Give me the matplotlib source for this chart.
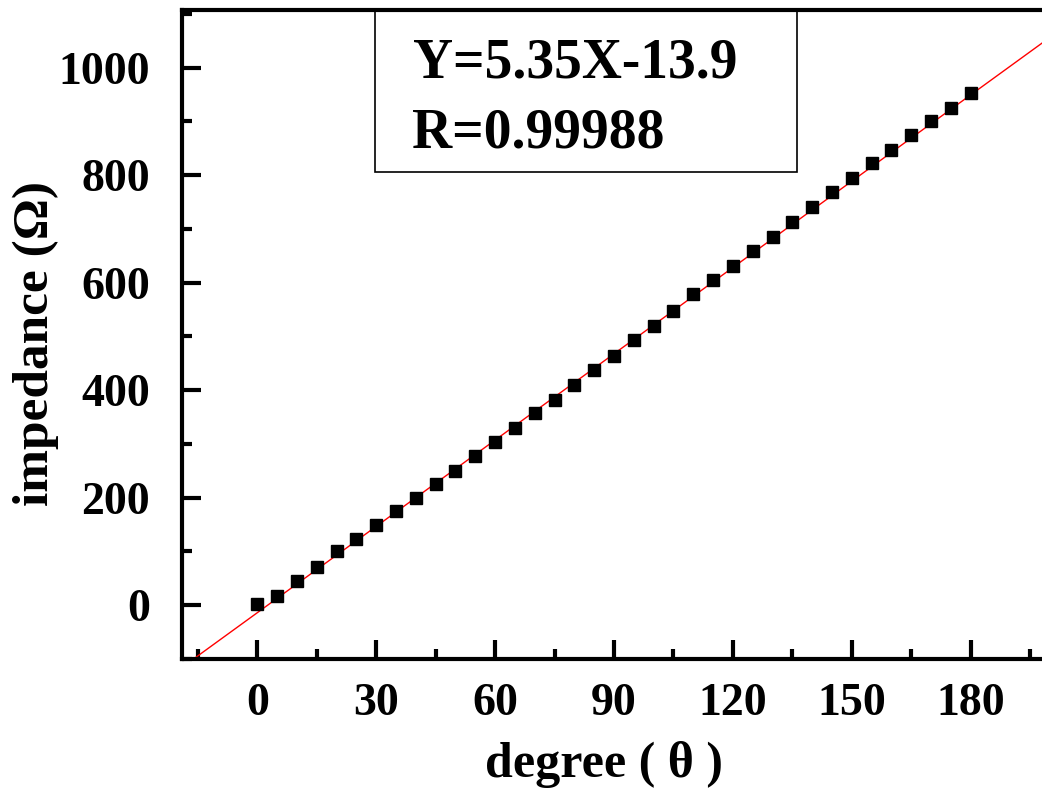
import numpy as np
import matplotlib
matplotlib.use("Agg")
import matplotlib.pyplot as plt
from matplotlib import patches

plt.rcParams['font.family'] = ['Liberation Serif', 'DejaVu Serif']
plt.rcParams['font.weight'] = 'bold'

# measured data
degree = [0, 5, 10, 15, 20, 25, 30, 35, 40, 45, 50, 55, 60, 65, 70, 75, 80, 85,
          90, 95, 100, 105, 110, 115, 120, 125, 130, 135, 140, 145, 150, 155,
          160, 165, 170, 175, 180]
impedance = [2, 17, 45, 72, 100, 123, 150, 175, 200, 225, 250, 278, 303, 330,
             357, 382, 410, 437, 463, 493, 520, 548, 578, 604, 630, 658, 685,
             712, 740, 768, 795, 822, 846, 875, 900, 925, 952]

# linear fit shown on the chart
slope = 5.35
intercept = -13.9
fit_text = ['Y=5.35X-13.9', 'R=0.99988']

W, H = 1042, 790
fig = plt.figure(figsize=(W / 100, H / 100), dpi=100)
ax = fig.add_axes([182 / W, (H - 659) / H, 1 - 182 / W, (659 - 10) / H])

xmin, xmax = -19, 198
xf = np.array([xmin - 5, xmax + 5])
ax.plot(xf, slope * xf + intercept, color='red', lw=1.0, zorder=2)
ax.plot(degree, impedance, 's', color='black', ms=9, zorder=3)

ax.set_xlim(xmin, xmax)
ax.set_ylim(-100, 1107)

ax.set_xticks(np.arange(0, 181, 30))
ax.set_xticks(np.arange(-15, 200, 15), minor=True)
ax.set_yticks(np.arange(0, 1001, 200))
ax.set_yticks(np.arange(-100, 1101, 100), minor=True)

ax.spines['right'].set_visible(False)
for s in ['left', 'bottom', 'top']:
    ax.spines[s].set_linewidth(3)

ax.tick_params(which='major', direction='in', length=14, width=3,
               labelsize=33)
ax.tick_params(axis='y', pad=23)
ax.tick_params(axis='x', pad=17)
ax.tick_params(which='minor', direction='in', length=7, width=3)
ax.tick_params(top=False, right=False, which='both')

ax.set_xlabel('degree ( θ )', fontsize=36, fontweight='bold')
ax.set_ylabel('impedance (Ω)', fontsize=37, fontweight='bold')
ax.xaxis.set_label_coords(604 / W, (H - 765) / H, transform=fig.transFigure)
ax.yaxis.set_label_coords(36 / W, (H - 343) / H, transform=fig.transFigure)
ax.xaxis.label.set_va('center')
ax.yaxis.label.set_va('center')

# annotation box
box = patches.Rectangle((375 / W, (H - 172) / H), (797 - 375) / W, (172 - 10) / H,
                        transform=fig.transFigure, fill=False, lw=1.2,
                        edgecolor='black')
fig.patches.append(box)
fig.text(413 / W, (H - 78) / H, fit_text[0], fontsize=40, fontweight='bold',
         va='baseline', ha='left')
fig.text(412 / W, (H - 147) / H, fit_text[1], fontsize=40, fontweight='bold',
         va='baseline', ha='left')

fig.savefig('out.png', dpi=100)
